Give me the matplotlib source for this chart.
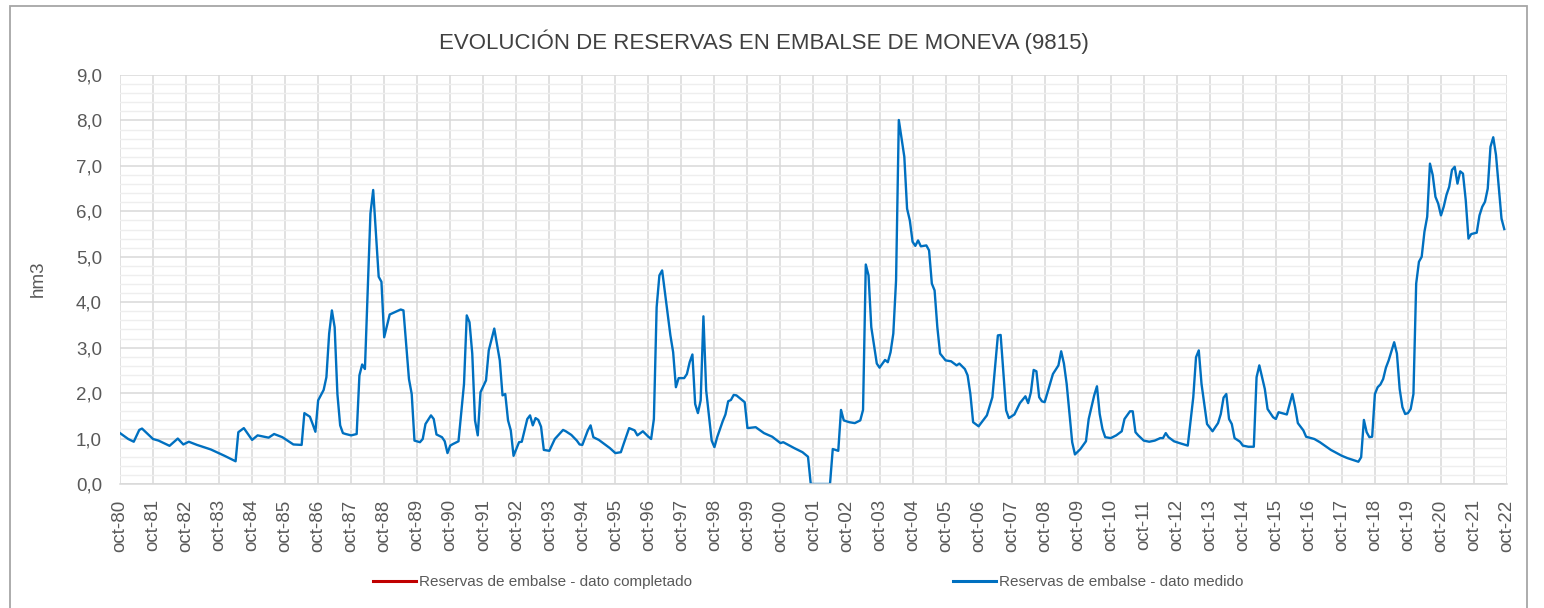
import matplotlib
matplotlib.use("Agg")
import matplotlib.pyplot as plt
from matplotlib.ticker import MultipleLocator, FuncFormatter, FixedLocator
from matplotlib.lines import Line2D
from matplotlib.patches import Rectangle

plt.rcParams['font.family'] = ['Liberation Sans', 'DejaVu Sans']

# Reservoir volume (hm3), months counted from October 1980
measured_month = [
    0, 3, 5, 7, 8, 12, 14, 18, 21, 23, 25, 28, 33, 38, 42, 43, 45, 48, 50, 54,
    56, 59, 63, 66, 67, 69, 70, 71, 72, 74, 75, 76, 77, 78, 79, 80, 81, 82, 84, 86,
    87, 88, 89, 91, 92, 93, 94, 95, 96, 98, 102, 103, 105, 106, 107, 109, 110, 111, 113, 114,
    115, 117, 118, 119, 120, 121, 123, 125, 126, 127, 128, 129, 130, 131, 133, 134, 136, 138, 139, 140,
    141, 142, 143, 145, 146, 148, 149, 150, 151, 152, 153, 154, 156, 158, 161, 162, 164, 166, 167, 168,
    170, 171, 172, 174, 178, 180, 182, 183, 185, 187, 188, 190, 192, 193, 194, 195, 196, 197, 199, 200,
    201, 202, 203, 205, 206, 207, 208, 209, 210, 211, 212, 213, 215, 216, 217, 219, 220, 221, 222, 223,
    224, 227, 228, 231, 234, 237, 240, 241, 245, 248, 250, 251, 258, 259, 261, 262, 263, 265, 267, 269,
    270, 271, 272, 273, 275, 276, 278, 279, 280, 281, 282, 283, 285, 286, 287, 288, 289, 290, 291, 293,
    294, 295, 296, 297, 298, 300, 302, 304, 305, 307, 308, 309, 310, 312, 315, 317, 319, 320, 322, 323,
    325, 327, 329, 330, 331, 332, 333, 334, 335, 336, 339, 341, 342, 343, 344, 346, 347, 349, 351, 352,
    354, 355, 356, 357, 358, 360, 362, 364, 365, 367, 368, 369, 370, 372, 374, 376, 378, 379, 380, 381,
    383, 385, 388, 390, 391, 392, 393, 395, 397, 399, 400, 401, 402, 403, 404, 405, 407, 408, 410, 412,
    413, 414, 416, 417, 419, 420, 421, 424, 426, 427, 428, 430, 431, 434, 436, 440, 444, 446, 448, 450,
    451, 452, 453, 454, 455, 456, 457, 458, 459, 460, 461, 463, 464, 465, 466, 467, 468, 469, 470, 471,
    472, 473, 474, 475, 476, 477, 478, 479, 480, 481, 482, 483, 484, 485, 486, 487, 488, 489, 490, 491,
    493, 494, 495, 496, 497, 498, 499, 500, 502, 503,
]
measured_hm3 = [
    1.12, 0.99, 0.93, 1.19, 1.22, 0.99, 0.955, 0.84, 1.00, 0.87, 0.93, 0.86, 0.76, 0.62, 0.50, 1.14, 1.23, 0.97, 1.07, 1.02,
    1.10, 1.03, 0.87, 0.86, 1.56, 1.48, 1.32, 1.15, 1.84, 2.07, 2.35, 3.31, 3.82, 3.45, 1.98, 1.29, 1.12, 1.10, 1.07, 1.10,
    2.39, 2.63, 2.53, 5.95, 6.47, 5.51, 4.56, 4.45, 3.23, 3.73, 3.84, 3.82, 2.31, 1.98, 0.955, 0.92, 0.99, 1.32, 1.51, 1.43,
    1.09, 1.03, 0.94, 0.68, 0.845, 0.88, 0.94, 2.20, 3.71, 3.56, 2.87, 1.40, 1.07, 2.02, 2.28, 2.94, 3.42, 2.72, 1.95, 1.98,
    1.40, 1.18, 0.62, 0.92, 0.93, 1.43, 1.51, 1.29, 1.45, 1.41, 1.26, 0.75, 0.73, 0.99, 1.19, 1.16, 1.08, 0.955, 0.87, 0.86,
    1.18, 1.29, 1.03, 0.97, 0.79, 0.68, 0.70, 0.88, 1.23, 1.18, 1.07, 1.16, 1.04, 0.99, 1.43, 3.89, 4.59, 4.70, 3.75, 3.27,
    2.90, 2.13, 2.33, 2.33, 2.42, 2.68, 2.85, 1.76, 1.56, 1.84, 3.69, 2.06, 0.955, 0.81, 1.03, 1.38, 1.53, 1.82, 1.85, 1.96,
    1.95, 1.80, 1.23, 1.25, 1.12, 1.04, 0.90, 0.92, 0.79, 0.70, 0.60, 0.0, 0.0, 0.77, 0.73, 1.63, 1.40, 1.36, 1.34, 1.40,
    1.63, 4.83, 4.59, 3.45, 2.65, 2.56, 2.73, 2.68, 2.90, 3.31, 4.48, 8.01, 7.20, 6.06, 5.80, 5.33, 5.24, 5.36, 5.23, 5.25,
    5.14, 4.41, 4.26, 3.45, 2.87, 2.72, 2.70, 2.61, 2.65, 2.53, 2.39, 1.98, 1.36, 1.27, 1.51, 1.91, 3.27, 3.28, 1.62, 1.45,
    1.53, 1.78, 1.93, 1.78, 2.02, 2.51, 2.48, 1.91, 1.82, 1.80, 2.42, 2.61, 2.92, 2.65, 2.20, 0.92, 0.65, 0.77, 0.94, 1.43,
    1.95, 2.15, 1.54, 1.21, 1.03, 1.01, 1.07, 1.16, 1.43, 1.60, 1.60, 1.14, 1.07, 0.955, 0.93, 0.955, 1.01, 1.01, 1.12, 1.03,
    0.94, 0.90, 0.845, 1.91, 2.79, 2.94, 2.20, 1.32, 1.16, 1.34, 1.54, 1.90, 1.98, 1.43, 1.32, 1.01, 0.93, 0.845, 0.82, 0.82,
    2.35, 2.61, 2.09, 1.65, 1.47, 1.43, 1.58, 1.53, 1.98, 1.69, 1.34, 1.18, 1.04, 0.99, 0.92, 0.75, 0.62, 0.57, 0.53, 0.49,
    0.59, 1.41, 1.14, 1.03, 1.04, 1.98, 2.13, 2.19, 2.31, 2.56, 2.72, 3.12, 2.87, 2.09, 1.69, 1.54, 1.56, 1.65, 1.98, 4.41,
    4.89, 5.00, 5.55, 5.88, 7.05, 6.80, 6.32, 6.17, 5.91, 6.10, 6.36, 6.54, 6.91, 6.98, 6.61, 6.88, 6.83, 6.25, 5.40, 5.50,
    5.53, 5.91, 6.10, 6.21, 6.50, 7.42, 7.63, 7.24, 5.84, 5.61,
]
# No gap-filled values appear in this period
completed_month = []
completed_hm3 = []

year_labels = ["oct-%02d" % (y % 100) for y in range(1980, 2023)]
title = "EVOLUCIÓN DE RESERVAS EN EMBALSE DE MONEVA (9815)"
ylabel = "hm3"
series_names = ["Reservas de embalse - dato completado", "Reservas de embalse - dato medido"]

BLUE = "#0070C0"
RED = "#C00000"
TEXT = "#595959"

fig = plt.figure(figsize=(15.44, 6.08), dpi=100)
ax = fig.add_axes([120 / 1544, 1 - 484 / 608, (1507 - 120) / 1544, (484 - 75) / 608])

ax.plot(completed_month, completed_hm3, color=RED, lw=1.7)
ax.plot(measured_month, measured_hm3, color=BLUE, lw=1.7, solid_joinstyle="round")

ax.set_xlim(0, 12 * (len(year_labels) - 1))
ax.set_ylim(0, 9)
ax.xaxis.set_major_locator(FixedLocator([12 * i for i in range(len(year_labels))]))
ax.set_xticklabels(year_labels, rotation=90)
ax.yaxis.set_major_locator(MultipleLocator(1.0))
ax.yaxis.set_minor_locator(MultipleLocator(0.2))
ax.yaxis.set_major_formatter(FuncFormatter(lambda v, p: ("%.1f" % v).replace(".", ",")))

ax.grid(which="major", axis="both", color="#D9D9D9", lw=1.1)
ax.grid(which="minor", axis="y", color="#EEEEEE", lw=1.0)
ax.set_axisbelow(True)
for side in ("top", "right", "left"):
    ax.spines[side].set_visible(False)
ax.spines["bottom"].set_color("#D9D9D9")
ax.spines["bottom"].set_linewidth(1.1)
ax.tick_params(axis="both", which="both", length=0, colors=TEXT, labelsize=13.5)
ax.tick_params(axis="x", pad=11)
ax.tick_params(axis="y", pad=13)

fig.text(38 / 1544, 1 - 279 / 608, ylabel, rotation=90, color=TEXT, fontsize=13.5,
         ha="center", va="center")

fig.text(764 / 1544, 1 - 42 / 608, title, ha="center", va="center", color="#404040", fontsize=16)

h_red = Line2D([], [], color=RED, lw=2.2)
h_blue = Line2D([], [], color=BLUE, lw=2.2)
for handle, name, x0 in ((h_red, series_names[0], 373), (h_blue, series_names[1], 953)):
    leg = fig.legend([handle], [name], loc="center left", bbox_to_anchor=(x0 / 1544, 1 - 582 / 608),
                     frameon=False, fontsize=11, handlelength=2.8, handletextpad=0.2,
                     borderpad=0, borderaxespad=0)
    for t in leg.get_texts():
        t.set_color(TEXT)

fig.patches.append(Rectangle((10 / 1544, -0.02), (1527 - 10) / 1544, 1.02 - 6 / 608,
                             transform=fig.transFigure, fill=False, edgecolor="#A6A6A6", lw=1.3))

fig.savefig("out.png", dpi=100)
